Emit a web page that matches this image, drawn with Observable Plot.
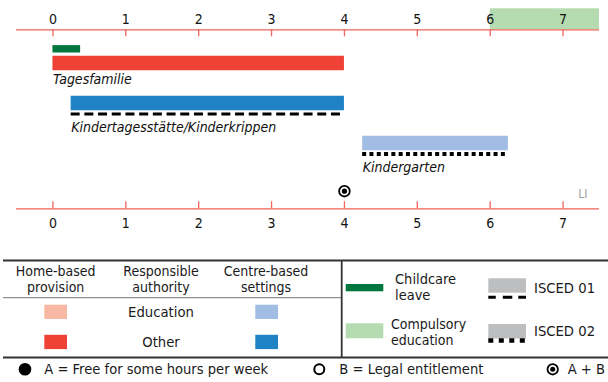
<!DOCTYPE html>
<html>
<head>
<meta charset="utf-8">
<script src="https://cdn.jsdelivr.net/npm/d3@7"></script>
<script src="https://cdn.jsdelivr.net/npm/@observablehq/plot@0.6"></script>
<style>
  body { margin: 0; background: #fff; }
  #wrap { position: relative; width: 608px; height: 382px; overflow: hidden;
          font-family: "DejaVu Sans Condensed", "Liberation Sans Narrow", Roboto, sans-serif; }
  #chart, #legend { position: absolute; left: 0; top: 0; }
  #chart svg, #legend svg { display: block; overflow: visible; }
</style>
</head>
<body>
<div id="wrap"><div id="chart"></div><div id="legend"></div></div>
<script>
// ---- data ----
const ageTicks = [0, 1, 2, 3, 4, 5, 6, 7];
const rowNames = ["Tagesfamilie", "Kindertagesstätte/Kinderkrippen", "Kindergarten"];
const rowStart = [0, 0.25, 4.25];
const rowEnd = [4, 4, 6.25];
const rowSetting = ["home", "centre", "centre"];
const rowAuthority = ["other", "other", "education"];
const rowIsced = [null, "ISCED 01", "ISCED 02"];
const leaveStart = [0];
const leaveEnd = [0.38];
const compulsoryStart = [6];
const markerAge = [4];
const markerType = ["A+B"];
const countryCode = "LI";

// ---- styles ----
const FONT = '"DejaVu Sans Condensed", "Liberation Sans Narrow", Roboto, sans-serif';
const AXIS_RED = "#f0625a";
const colors = {
  home: {education: "#f7b9a3", other: "#ef4136"},
  centre: {education: "#a2bde3", other: "#1f82c5"}
};
const LEAVE_GREEN = "#00773f";
const COMPULSORY_GREEN = "#b5dcb0";
const ISCED_GRAY = "#bdbec0";
const isced = {
  "ISCED 01": {dash: "9,4.7", width: 3},
  "ISCED 02": {dash: "4,3.3", width: 4}
};

// lane layout (1 lane = 40px)
const LANE = 40;
const topLane = 0;
const bottomLane = 4.475;
const laneOf = i => 0.83 + i;
const markerLane = 4.035;
const X_MIN = -0.5, X_MAX = 7.5;

const rows = rowNames.map((name, i) => ({
  name, start: rowStart[i], end: rowEnd[i],
  color: colors[rowSetting[i]][rowAuthority[i]],
  isced: rowIsced[i], lane: laneOf(i)
}));
const leave = leaveStart.map((s, i) => ({start: s, end: leaveEnd[i], lane: laneOf(0)}));
const markers = markerAge.map((a, i) => ({age: a, type: markerType[i]}));

const chart = Plot.plot({
  width: 608,
  height: 240,
  marginLeft: 16,
  marginRight: 9,
  marginTop: 29.3,
  marginBottom: 31.7,
  style: {fontFamily: FONT, background: "transparent"},
  x: {domain: [X_MIN, X_MAX], axis: null},
  y: {domain: [topLane, bottomLane], range: [29.3, 208.3], axis: null},
  marks: [
    // compulsory education band above top axis
    Plot.rect(compulsoryStart, {x1: d => d, x2: X_MAX, y1: topLane - 21 / LANE, y2: topLane, fill: COMPULSORY_GREEN}),
    // axis lines
    Plot.ruleY([topLane, bottomLane], {stroke: AXIS_RED, strokeWidth: 1.3}),
    // ticks
    Plot.ruleX(ageTicks, {x: d => d, y1: topLane, y2: topLane + 7 / LANE, stroke: AXIS_RED, strokeWidth: 1.3}),
    Plot.ruleX(ageTicks, {x: d => d, y1: bottomLane, y2: bottomLane - 7 / LANE, stroke: AXIS_RED, strokeWidth: 1.3}),
    // tick labels
    Plot.text(ageTicks, {x: d => d, y: topLane, dy: -10, text: d => String(d), fontSize: 14, fill: "#111"}),
    Plot.text(ageTicks, {x: d => d, y: bottomLane, dy: 15, text: d => String(d), fontSize: 14, fill: "#111"}),
    // childcare leave
    Plot.ruleY(leave, {y: "lane", x1: "start", x2: "end", dy: -14.2, stroke: LEAVE_GREEN, strokeWidth: 7.4}),
    // provision bars
    Plot.ruleY(rows, {y: "lane", x1: "start", x2: "end", stroke: "color", strokeWidth: 14.4}),
    // ISCED lines
    ...Object.keys(isced).map(k =>
      Plot.ruleY(rows.filter(r => r.isced === k), {y: "lane", x1: "start", x2: "end", dy: 11,
        stroke: "#000", strokeWidth: isced[k].width, strokeDasharray: isced[k].dash})),
    // labels
    Plot.text(rows.filter(r => !r.isced), {x: "start", y: "lane", dy: 17, text: "name", textAnchor: "start",
      fontStyle: "italic", fontSize: 14, fill: "#111"}),
    Plot.text(rows.filter(r => r.isced), {x: "start", y: "lane", dy: 24.5, text: "name", textAnchor: "start",
      fontStyle: "italic", fontSize: 14, fill: "#111"}),
    // markers A+B
    Plot.dot(markers, {x: "age", y: () => markerLane, r: 5.3, stroke: "#000", strokeWidth: 1.8, fill: "#fff"}),
    Plot.dot(markers, {x: "age", y: () => markerLane, r: 2.6, fill: "#000"}),
    // country code
    Plot.text([countryCode], {x: () => X_MAX, y: () => markerLane, dx: -12, dy: 3, text: d => d,
      textAnchor: "end", fontSize: 12, fill: "#a0a0a0"})
  ]
});
document.getElementById("chart").appendChild(chart);

// ---- legend (drawn in page coordinates) ----
const legendSvg = d3.select("#legend").append("svg")
  .attr("width", 608).attr("height", 382)
  .style("font-family", FONT);
const g = legendSvg.append("g");
const line = (x1, y1, x2, y2, stroke, w) =>
  g.append("line").attr("x1", x1).attr("y1", y1).attr("x2", x2).attr("y2", y2)
   .attr("stroke", stroke).attr("stroke-width", w);
const text = (x, y, s, anchor = "start", size = 14.7) =>
  g.append("text").attr("x", x).attr("y", y).attr("dy", "0.35em").attr("text-anchor", anchor)
   .attr("font-size", size).attr("fill", "#1a1a1a").text(s);
const rect = (x, y, w, h, fill) =>
  g.append("rect").attr("x", x).attr("y", y).attr("width", w).attr("height", h).attr("fill", fill);

line(3, 260.5, 608, 260.5, "#333", 1.8);
line(3, 357.5, 608, 357.5, "#333", 1.8);
line(341.7, 260, 341.7, 357.5, "#333", 1.8);
line(3, 297.7, 341, 297.7, "#777", 1);

const headers = [["Home-based", "provision", 55.7], ["Responsible", "authority", 161], ["Centre-based", "settings", 266]];
headers.forEach(([a, b, x]) => { text(x, 271, a, "middle", 14); text(x, 287, b, "middle", 14); });

const authorities = [["Education", "education", 311.7], ["Other", "other", 341.8]];
authorities.forEach(([label, key, y]) => {
  rect(44.3, y - 7, 22.7, 14.3, colors.home[key]);
  text(161, y, label, "middle");
  rect(255.3, y - 7, 22.7, 14.3, colors.centre[key]);
});

rect(345.7, 284, 37.6, 7.3, LEAVE_GREEN);
text(395, 279.3, "Childcare", "start", 14.5); text(395, 295, "leave", "start", 14.5);
rect(345.7, 323.3, 37.6, 15, COMPULSORY_GREEN);
text(391, 324.2, "Compulsory", "start", 14); text(391, 339.6, "education", "start", 14);

rect(488.3, 278.3, 37.7, 14.4, ISCED_GRAY);
line(488.3, 297.3, 526, 297.3, "#000", 3).attr("stroke-dasharray", "7.5,7,9.5,6,7.7");
text(534, 287.7, "ISCED 01", "start", 14.7);
rect(488.3, 324, 37.7, 14.4, ISCED_GRAY);
line(488.3, 340.5, 526, 340.5, "#000", 4.3).attr("stroke-dasharray", "5,5.5");
text(534, 331, "ISCED 02", "start", 14.7);

// footer
g.append("circle").attr("cx", 25).attr("cy", 369.3).attr("r", 6.3).attr("fill", "#000");
text(44.3, 369.3, "A = Free for some hours per week", "start", 14.6);
g.append("circle").attr("cx", 319.3).attr("cy", 369.3).attr("r", 5).attr("fill", "#fff").attr("stroke", "#000").attr("stroke-width", 2);
text(339.3, 369.3, "B = Legal entitlement", "start", 14.6);
g.append("circle").attr("cx", 552.7).attr("cy", 369.3).attr("r", 5.2).attr("fill", "#fff").attr("stroke", "#000").attr("stroke-width", 1.8);
g.append("circle").attr("cx", 552.7).attr("cy", 369.3).attr("r", 2.5).attr("fill", "#000");
text(567.7, 369.3, "A + B", "start", 14.6);
</script>
</body>
</html>
